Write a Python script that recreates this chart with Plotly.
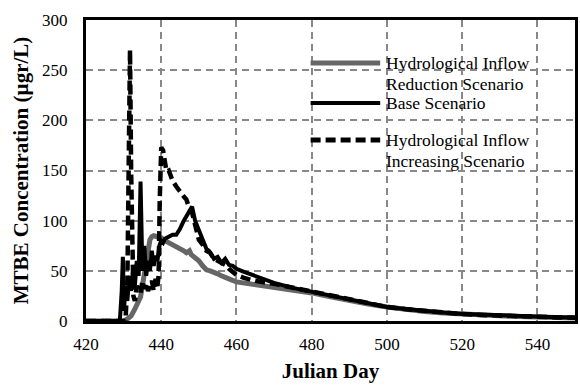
import plotly.graph_objects as go

# ---- data ----
red_day = [420, 430, 431, 432, 433, 434, 434.5, 435, 435.5, 436, 436.5, 437, 437.5, 438, 439, 440,
           441, 442, 443, 444, 445, 446, 446.7, 447.5, 448, 449, 450, 451, 452, 453, 454, 455, 456,
           457, 458, 460, 462, 465, 470, 475, 480, 485, 490, 495, 500, 505, 510, 515, 520, 525, 530,
           535, 540, 545, 550]
red_val = [0, 0, 2, 5, 12, 20, 24, 35, 45, 55, 70, 81, 84, 85, 84, 83,
           80, 78, 76, 75, 72, 70, 68, 70, 66, 63, 60, 55, 51, 50, 49, 47, 45,
           44, 42, 39, 38, 36, 34, 31, 28, 24, 20, 17, 14, 11.5, 9.5, 8, 6.8, 5.8, 5,
           4.4, 3.9, 3.5, 3.1]

base_day = [420, 429, 429.5, 429.8, 430.1, 430.5, 431, 431.5, 432, 432.5, 433, 433.5, 434, 434.5,
            435, 435.5, 436, 436.5, 437, 437.5, 438, 438.5, 439, 439.5, 440, 440.5, 441, 442, 443,
            444, 445, 446, 446.7, 447.5, 448.2, 449, 450, 451, 452, 452.7, 453.5, 454, 455, 456,
            457, 458, 459, 460, 462, 465, 470, 475, 480, 485, 490, 495, 500, 505, 510, 515, 520,
            525, 530, 535, 540, 545, 550]
base_val = [0, 0, 30, 64, 10, 35, 20, 45, 30, 50, 35, 60, 45, 139,
            50, 75, 45, 60, 50, 70, 55, 65, 60, 75, 80, 78, 82, 84, 86,
            86, 92, 100, 104, 110, 114, 100, 90, 80, 72, 70, 66, 62, 64, 58,
            62, 56, 55, 52, 49, 45, 38, 33, 29, 25, 21, 17, 14, 12, 10, 8.5, 7,
            6.2, 5.5, 4.8, 4.2, 3.8, 3.4]

inc_day = [420, 430.5, 431, 431.5, 431.7, 432, 432.3, 432.6, 433, 433.5, 434, 434.5, 435, 435.5,
           436, 436.5, 437, 437.5, 438, 438.5, 439, 439.3, 439.6, 440, 440.5, 441, 441.4, 442,
           443, 444, 445, 446, 446.7, 447.5, 448.2, 449, 450, 451, 452, 453, 454, 455, 456, 457,
           458, 460, 462, 465, 470, 475, 480, 485, 490, 495, 500, 505, 510, 515, 520, 525, 530,
           535, 540, 545, 550]
inc_val = [0, 0, 40, 200, 270, 150, 60, 25, 20, 35, 30, 28, 40, 32,
           38, 30, 35, 40, 30, 42, 35, 45, 120, 173, 170, 158, 149, 150,
           140, 134, 128, 124, 121, 112, 108, 95, 81, 76, 70, 68, 62, 60, 58, 56,
           52, 46, 43, 40, 37, 33, 29, 25, 21, 17, 14, 11.8, 9.8, 8.2, 6.9, 6, 5.2,
           4.6, 4, 3.6, 3.2]

legend_lines = [["Hydrological Inflow", "Reduction Scenario"], ["Base Scenario"],
                ["Hydrological Inflow", "Increasing Scenario"]]
x_ticks = [420, 440, 460, 480, 500, 520, 540]
y_ticks = [0, 50, 100, 150, 200, 250, 300]

GRAY = "#666666"
FONT = "Times New Roman, Liberation Serif, DejaVu Serif, serif"

fig = go.Figure()
fig.add_trace(go.Scatter(x=red_day, y=red_val, mode="lines", name=" ".join(legend_lines[0]),
                         line=dict(color=GRAY, width=5), showlegend=False))
fig.add_trace(go.Scatter(x=base_day, y=base_val, mode="lines", name=" ".join(legend_lines[1]),
                         line=dict(color="black", width=4), showlegend=False))
fig.add_trace(go.Scatter(x=inc_day, y=inc_val, mode="lines", name=" ".join(legend_lines[2]),
                         line=dict(color="black", width=4.5, dash="10px,5px"), showlegend=False))

# custom legend (long line samples as in the reference)
L, R, T, B = 86, 578, 20, 321
def px(x):
    return (x - L) / (R - L)
def py(y):
    return (B - y) / (B - T)

leg_items = [(63, GRAY, "solid", 5), (103, "black", "solid", 4), (140, "black", "10px,5px", 5)]
for (yy, col, dash, w), lines in zip(leg_items, legend_lines):
    fig.add_shape(type="line", xref="paper", yref="paper", x0=px(312), x1=px(382),
                  y0=py(yy), y1=py(yy), line=dict(color=col, width=w, dash=dash))
    for k, txt in enumerate(lines):
        fig.add_annotation(xref="paper", yref="paper", x=px(386), y=py(yy + k * 20.5),
                           xanchor="left", yanchor="middle", text=txt, showarrow=False,
                           align="left", font=dict(family=FONT, size=17.5, color="black"))

fig.update_layout(
    width=580, height=385,
    margin=dict(l=L, r=580 - R, t=T, b=385 - B),
    paper_bgcolor="white", plot_bgcolor="white",
    font=dict(family=FONT, size=17, color="black"),
    showlegend=False,
)
fig.update_xaxes(range=[420, 550], tickvals=x_ticks, ticks="", showline=True, linecolor="black",
                 linewidth=3, mirror=True, showgrid=True, gridcolor="#888888", gridwidth=1.5,
                 griddash="7px,5px", zeroline=False, ticklabelstandoff=6,
                 title=dict(text="<b>Julian Day</b>", font=dict(family=FONT, size=21), standoff=10))
fig.update_yaxes(range=[0, 300], tickvals=y_ticks, ticks="", showline=True, linecolor="black",
                 linewidth=3, mirror=True, showgrid=True, gridcolor="#888888", gridwidth=1.5,
                 griddash="7px,5px", zeroline=False, ticklabelstandoff=12,
                 title=dict(text="<b>MTBE Concentration (µgr/L)</b>", font=dict(family=FONT, size=21),
                            standoff=8))

fig.write_html("out.html")
